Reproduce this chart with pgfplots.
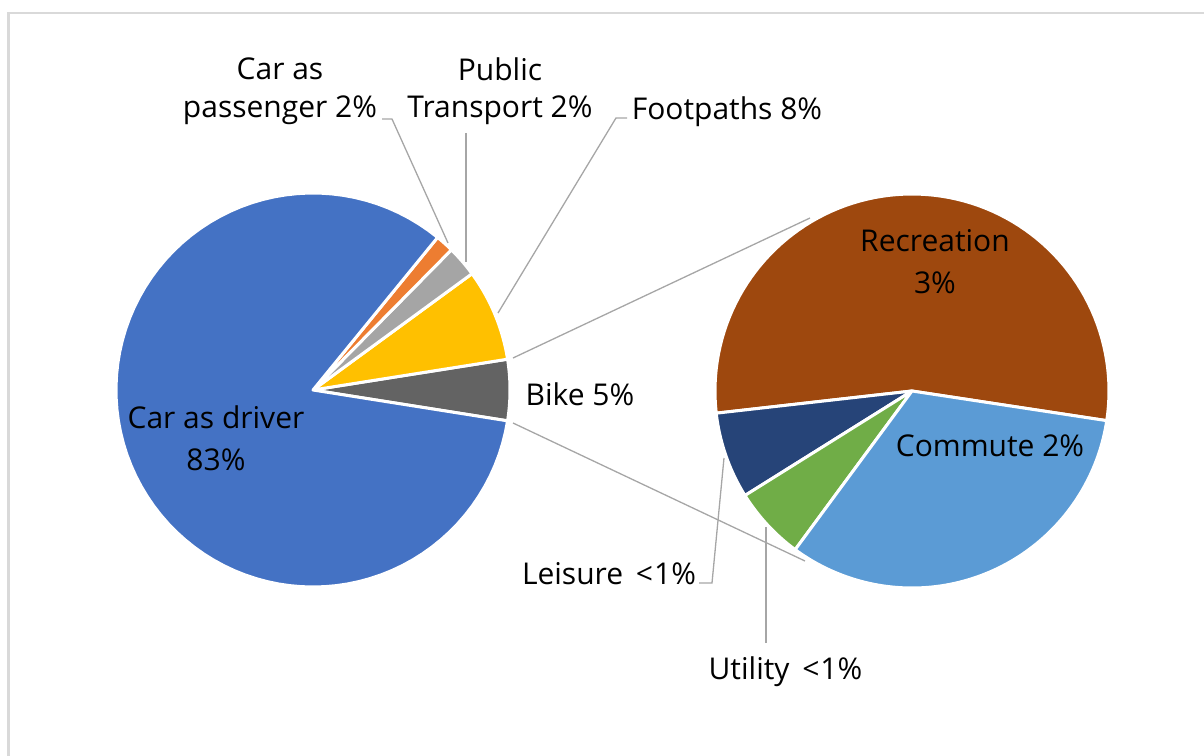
\documentclass[border=0pt]{standalone}
\usepackage{pgfplots}
\pgfplotsset{compat=1.18}
\usepackage{fontspec}
\setmainfont{Open Sans}
\definecolor{cDriver}{HTML}{4472C4}
\definecolor{cPass}{HTML}{ED7D31}
\definecolor{cPT}{HTML}{A5A5A5}
\definecolor{cFoot}{HTML}{FFC000}
\definecolor{cBike}{HTML}{636363}
\definecolor{cRec}{HTML}{9E480E}
\definecolor{cCom}{HTML}{5B9BD5}
\definecolor{cUti}{HTML}{70AD47}
\definecolor{cLei}{HTML}{264478}
\definecolor{cLine}{HTML}{A6A6A6}
\definecolor{cFrame}{HTML}{D9D9D9}
\tikzset{lab/.style={anchor=base, font=\fontsize{30bp}{36bp}\selectfont, inner sep=0pt}}
% main pie shares (%)
\def\pDriver{83.4}\def\pPass{1.5}\def\pPT{2.55}\def\pFoot{7.55}\def\pBike{5.0}
% bike breakdown (% of bike)
\def\pRec{54.2}\def\pLei{7.1}\def\pUti{6.0}\def\pCom{32.7}
\newcommand{\slice}[6]{%
  \addplot[fill=#6, draw=white, line width=3bp, line join=round,
    domain=#4:#5, samples=90, variable=\t]
    ({#1+#3*cos(\t)},{#2-#3*sin(\t)}) -- (axis cs:#1,#2) -- cycle;}
\begin{document}
\begin{tikzpicture}
\pgfmathsetmacro\La{-1.8*\pBike}
\pgfmathsetmacro\Lb{\La+3.6*\pBike}
\pgfmathsetmacro\Lc{\Lb+3.6*\pFoot}
\pgfmathsetmacro\Ld{\Lc+3.6*\pPT}
\pgfmathsetmacro\Le{\Ld+3.6*\pPass}
\pgfmathsetmacro\Lf{\Le+3.6*\pDriver}
\pgfmathsetmacro\Ra{-8.65}
\pgfmathsetmacro\Rb{\Ra+3.6*\pRec}
\pgfmathsetmacro\Rc{\Rb+3.6*\pLei}
\pgfmathsetmacro\Rd{\Rc+3.6*\pUti}
\pgfmathsetmacro\Re{\Rd+3.6*\pCom}
\begin{axis}[at={(0,0)}, anchor=south west, width=1204bp, height=756bp, scale only axis,
  xmin=0, xmax=1204, ymin=0, ymax=756, y dir=reverse, hide axis, clip=false]
% frame
\addplot[color=cFrame, line width=2bp] coordinates {(8.5,756) (8.5,13) (1204,13)};
% connectors
\addplot[color=cLine, line width=1.3bp] coordinates {(513,358) (810,218)};
\addplot[color=cLine, line width=1.3bp] coordinates {(513,423) (805,561)};
% leader lines
\addplot[color=cLine, line width=1.3bp] coordinates {(382,119) (392,119) (448,243)};
\addplot[color=cLine, line width=1.3bp] coordinates {(466,133) (466,262)};
\addplot[color=cLine, line width=1.3bp] coordinates {(627,118) (616,118) (498,313)};
\addplot[color=cLine, line width=1.3bp] coordinates {(699,583) (712,583) (724,458)};
\addplot[color=cLine, line width=1.3bp] coordinates {(766,643) (766,527)};
% main pie
\slice{313}{390}{197}{\La}{\Lb}{cBike}
\slice{313}{390}{197}{\Lb}{\Lc}{cFoot}
\slice{313}{390}{197}{\Lc}{\Ld}{cPT}
\slice{313}{390}{197}{\Ld}{\Le}{cPass}
\slice{313}{390}{197}{\Le}{\Lf}{cDriver}
% bike pie
\slice{912}{391}{197}{\Ra}{\Rb}{cRec}
\slice{912}{391}{197}{\Rb}{\Rc}{cLei}
\slice{912}{391}{197}{\Rc}{\Rd}{cUti}
\slice{912}{391}{197}{\Rd}{\Re}{cCom}
% labels
\node[lab] at (axis cs:216,428) {Car as driver};
\node[lab] at (axis cs:216,470) {83\%};
\node[lab] at (axis cs:280,80) {Car as};
\node[lab] at (axis cs:280,118) {passenger 2\%};
\node[lab] at (axis cs:500,81) {Public};
\node[lab] at (axis cs:500,118) {Transport 2\%};
\node[lab] at (axis cs:727,120) {Footpaths 8\%};
\node[lab] at (axis cs:580,405) {Bike 5\%};
\node[lab] at (axis cs:935,251) {Recreation};
\node[lab] at (axis cs:935,293) {3\%};
\node[lab] at (axis cs:990,456) {Commute 2\%};
\node[lab] at (axis cs:609,584) {Leisure \,<\kern1bp1\%};
\node[lab] at (axis cs:785.5,679) {Utility \,<\kern1bp1\%};
\end{axis}
\pgfresetboundingbox
\path (0,0) rectangle (1204bp,756bp);
\end{tikzpicture}
\end{document}
